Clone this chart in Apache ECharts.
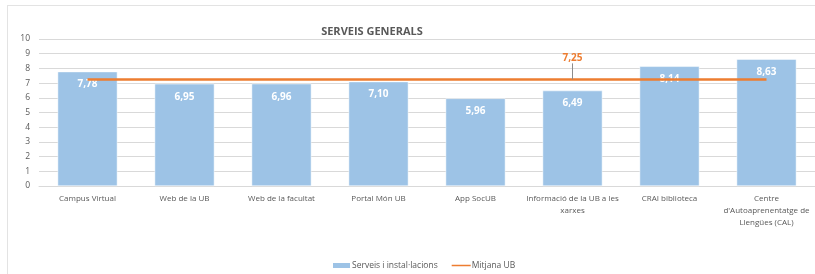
<!DOCTYPE html>
<html>
<head>
<meta charset="utf-8">
<script src="https://cdn.jsdelivr.net/npm/echarts@6/dist/echarts.min.js"></script>
<style>
  html, body { margin: 0; padding: 0; background: #fff; }
  #chart { width: 815px; height: 274px; }
</style>
</head>
<body>
<div id="chart"></div>
<script>
// chart data
const categories = [
  'Campus Virtual',
  'Web de la UB',
  'Web de la facultat',
  'Portal Món UB',
  'App SocUB',
  'Informació de la UB a les\nxarxes',
  'CRAI biblioteca',
  'Centre\nd\'Autoaprenentatge de\nLlengües (CAL)',
]
const serveisValues = [7.78, 6.95, 6.96, 7.10, 5.96, 6.49, 8.14, 8.63]
const mitjanaUB = 7.25
const mitjanaLabelIndex = 5
const yTicks = [0, 1, 2, 3, 4, 5, 6, 7, 8, 9, 10]

const textGray = '#595959'
const fontFamily = '"Open Sans", "Liberation Sans", sans-serif'

const chart = echarts.init(document.getElementById('chart'))

const fmt = (v) => v.toFixed(2).replace('.', ',')

const mitjanaData = categories.map((c, i) =>
  i === mitjanaLabelIndex
    ? {
        value: mitjanaUB,
        label: {
          show: true,
          position: 'top',
          distance: 0,
          formatter: () => fmt(mitjanaUB),
          color: '#ED7D31',
          fontWeight: 'bold',
          fontSize: 10,
          fontFamily,
        },
        labelLine: { show: true, lineStyle: { color: '#8c8c8c', width: 1 } },
      }
    : mitjanaUB,
)

chart.setOption({
  animation: false,
  title: {
    text: 'SERVEIS GENERALS',
    left: 367,
    top: 21,
    textAlign: 'center',
    textStyle: { fontSize: 11, fontWeight: 'bold', color: textGray, fontFamily },
  },
  legend: {
    bottom: 4,
    left: 331,
    padding: 0,
    itemGap: 14,
    itemWidth: 19,
    itemHeight: 7,
    textStyle: { fontSize: 8.5, color: textGray, fontFamily, padding: [0, 0, 0, -4] },
    data: [
      { name: 'Serveis i instal·lacions', icon: 'rect' },
      {
        name: 'Mitjana UB',
        icon: 'path://M0,0L0.01,0L0,0.01Z M0,2.6L20,2.6L20,4.4L0,4.4Z M0,7L0.01,7L0,7.01Z',
      },
    ],
  },
  grid: { left: 39, right: -4, top: 39, bottom: 88 },
  xAxis: {
    type: 'category',
    data: categories,
    axisTick: { show: false },
    axisLine: { lineStyle: { color: '#d9d9d9' } },
    axisLabel: {
      color: textGray,
      fontSize: 8,
      fontFamily,
      margin: 7,
      lineHeight: 12,
      interval: 0,
    },
  },
  yAxis: {
    type: 'value',
    min: yTicks[0],
    max: yTicks[yTicks.length - 1],
    interval: 1,
    axisLine: { show: false },
    axisTick: { show: false },
    splitLine: { lineStyle: { color: '#d9d9d9' } },
    axisLabel: { color: textGray, fontSize: 8.5, fontFamily, margin: 9 },
  },
  series: [
    {
      name: 'Serveis i instal·lacions',
      type: 'bar',
      data: serveisValues,
      barWidth: '61.6%',
      itemStyle: { color: '#9DC3E6', borderColor: '#ffffff', borderWidth: 0.5 },
      label: {
        show: true,
        position: 'insideTop',
        distance: 8,
        formatter: (p) => fmt(p.value),
        color: '#ffffff',
        fontWeight: 'bold',
        fontSize: 10,
        fontFamily,
      },
      z: 2,
    },
    {
      name: 'Mitjana UB',
      type: 'line',
      data: mitjanaData,
      symbol: 'circle',
      symbolSize: 0.1,
      showSymbol: true,
      lineStyle: { color: '#ED7D31', width: 2.5 },
      itemStyle: { color: '#ED7D31' },
      labelLayout: { dy: -16 },
      z: 3,
    },
  ],
  graphic: [
    { type: 'line', shape: { x1: 7, y1: 5.5, x2: 815, y2: 5.5 }, style: { stroke: '#e3e3e3', lineWidth: 1 } },
    { type: 'line', shape: { x1: 7.5, y1: 5, x2: 7.5, y2: 274 }, style: { stroke: '#e3e3e3', lineWidth: 1 } },
  ],
})
</script>
</body>
</html>
